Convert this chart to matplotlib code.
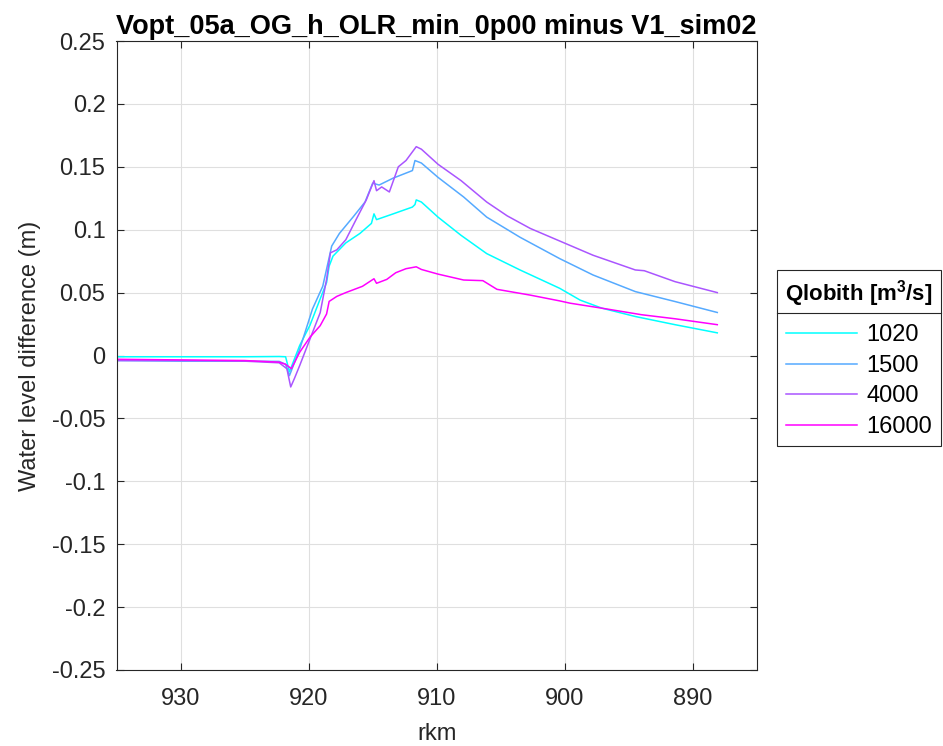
import matplotlib
matplotlib.use("Agg")
import matplotlib.pyplot as plt
from matplotlib.lines import Line2D

plt.rcParams['font.family'] = ['Liberation Sans', 'DejaVu Sans']
plt.rcParams['mathtext.fontset'] = 'custom'
plt.rcParams['mathtext.rm'] = 'Liberation Sans'
plt.rcParams['mathtext.bf'] = 'Liberation Sans:bold'

title = "Vopt_05a_OG_h_OLR_min_0p00 minus V1_sim02"
xlabel = "rkm"
ylabel = "Water level difference (m)"
legend_title = r"Qlobith [m$^{\mathbf{3}}$/s]"
labels = ["1020", "1500", "4000", "16000"]
colors = ["#00FFFF", "#55AAFF", "#AA55FF", "#FF00FF"]

x_1020 = [935, 930, 925, 922.3, 921.8, 921.5, 920.7, 919.9, 919.1, 918.6, 918.4, 918.1, 917.1, 916.0, 915.1,
          914.9, 914.7, 913.4, 911.9, 911.7, 911.6, 911.2, 909.9, 908.1, 906.1, 903.5, 900.4, 898.8, 897.1,
          894.5, 891.4, 888.1]
y_1020 = [-0.001, -0.001, -0.001, -0.0008, -0.001, -0.013, 0.008, 0.024, 0.045, 0.058, 0.071, 0.079, 0.0895, 0.097, 0.105,
          0.1126, 0.108, 0.1126, 0.118, 0.120, 0.1237, 0.122, 0.110, 0.0955, 0.081, 0.068, 0.0534, 0.044, 0.0376,
          0.031, 0.0245, 0.018]

x_1500 = [935, 930, 925, 922.3, 921.8, 921.5, 920.7, 919.7, 918.9, 918.2, 917.6, 916.5, 915.6, 915.0, 914.5,
          913.4, 911.9, 911.7, 911.2, 909.9, 907.9, 906.1, 903.5, 900.4, 897.8, 894.5, 891.4, 888.1]
y_1500 = [-0.004, -0.0045, -0.0045, -0.0047, -0.007, -0.016, 0.005, 0.037, 0.055, 0.087, 0.097, 0.1105, 0.122, 0.137, 0.1355,
          0.141, 0.147, 0.155, 0.153, 0.1416, 0.126, 0.110, 0.094, 0.077, 0.064, 0.0508, 0.0429, 0.0342]

x_4000 = [935, 930, 925, 922.3, 921.7, 921.4, 921.1, 920.7, 919.9, 919.1, 918.6, 918.3, 917.8, 917.1, 916.3, 915.5,
          914.9, 914.7, 914.3, 913.7, 913.0, 912.4, 911.6, 911.2, 909.9, 908.1, 906.1, 904.5, 902.7, 900.4,
          897.8, 894.5, 893.8, 891.4, 888.1]
y_4000 = [-0.004, -0.004, -0.0045, -0.0058, -0.0105, -0.025, -0.018, -0.008, 0.013, 0.034, 0.0605, 0.0816, 0.084, 0.092, 0.108, 0.1237,
          0.139, 0.131, 0.134, 0.130, 0.150, 0.155, 0.166, 0.164, 0.152, 0.139, 0.122, 0.111, 0.101, 0.091,
          0.0797, 0.068, 0.0674, 0.0587, 0.050]

x_16000 = [935, 930, 925, 922.3, 921.8, 921.35, 920.7, 919.9, 919.1, 918.6, 918.4, 917.8, 917.1, 915.8, 914.9,
           914.7, 913.9, 913.2, 912.4, 911.6, 911.2, 909.9, 907.9, 906.4, 905.3, 902.7, 900.4, 899.6, 897.1,
           894.0, 891.4, 888.1]
y_16000 = [-0.003, -0.0035, -0.004, -0.0053, -0.007, -0.0105, 0.0026, 0.0145, 0.0237, 0.033, 0.043, 0.047, 0.050, 0.055, 0.061,
           0.0574, 0.0605, 0.0658, 0.069, 0.0705, 0.0684, 0.0647, 0.060, 0.0595, 0.0526, 0.048, 0.0434, 0.0416, 0.0376,
           0.0324, 0.0292, 0.0245]

xs = [x_1020, x_1500, x_4000, x_16000]
ys = [y_1020, y_1500, y_4000, y_16000]

xticks = [930, 920, 910, 900, 890]
yticks = [-0.25, -0.2, -0.15, -0.1, -0.05, 0, 0.05, 0.1, 0.15, 0.2, 0.25]
ytick_labels = ["-0.25", "-0.2", "-0.15", "-0.1", "-0.05", "0", "0.05", "0.1", "0.15", "0.2", "0.25"]

fig = plt.figure(figsize=(9.43, 7.46), dpi=100)
ax = fig.add_axes([116.5 / 943, 1 - 670 / 746, (757 - 116.5) / 943, (670 - 41) / 746])

for x, y, c, lab in zip(xs, ys, colors, labels):
    ax.plot(x, y, color=c, lw=1.1, label=lab)

ax.set_xlim(935, 885)
ax.set_ylim(-0.25, 0.25)
ax.set_xticks(xticks)
ax.set_yticks(yticks)
ax.set_yticklabels(ytick_labels)
ax.grid(True, color="#dfdfdf", lw=0.8)
ax.set_axisbelow(True)
for s in ax.spines.values():
    s.set_color("#262626")
    s.set_linewidth(0.8)
ax.tick_params(direction="in", top=True, right=True, length=5, width=0.8,
               color="#262626", labelsize=17, labelcolor="#262626")
ax.tick_params(axis="x", pad=13)
ax.tick_params(axis="y", pad=8)
ax.set_xlabel(xlabel, fontsize=17, color="#262626", labelpad=9)
ax.set_ylabel(ylabel, fontsize=17, color="#262626", labelpad=8)
ax.set_title(title, fontsize=19.5, fontweight="bold", pad=5)

leg = ax.legend(loc="upper left", bbox_to_anchor=(777 / 943, 1 - 270 / 746),
                bbox_transform=fig.transFigure, borderaxespad=0, fontsize=17, title=legend_title,
                title_fontproperties={"weight": "bold", "size": 16},
                frameon=True, fancybox=False, edgecolor="#262626", framealpha=1,
                handlelength=3.0, labelspacing=0.36, borderpad=0.35, handletextpad=0.4)
leg.get_frame().set_linewidth(0.8)
leg._legend_box.sep = 11

fig.canvas.draw()
lb = leg.get_window_extent()
tb = leg.get_title().get_window_extent()
ysep = tb.y0 - 4
inv = fig.transFigure.inverted()
(x0f, yf), (x1f, _) = inv.transform([(lb.x0, ysep), (lb.x1, ysep)])
fig.add_artist(Line2D([x0f, x1f], [yf, yf], transform=fig.transFigure, color="#262626", lw=0.8))

fig.savefig("out.png", dpi=100)
